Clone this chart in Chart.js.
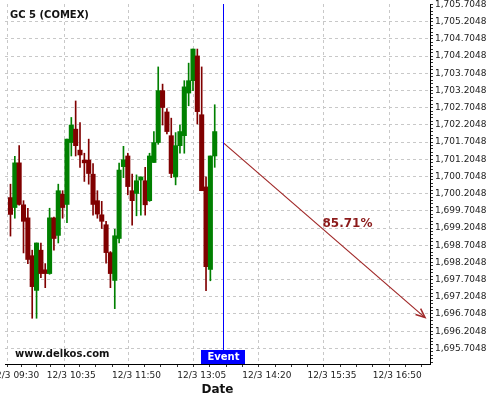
<!DOCTYPE html>
<html>
<head>
<meta charset="utf-8">
<script src="https://cdn.jsdelivr.net/npm/chart.js@4/dist/chart.umd.min.js"></script>
<style>
  html, body { margin: 0; padding: 0; background: #fff; }
  canvas { display: block; }
</style>
</head>
<body>
<canvas id="chart" width="500" height="400"></canvas>
<script>
// GC 5 (COMEX), 5 minute candles on 12/3
const times = ['09:25','09:30','09:35','09:40','09:45','09:50','09:55','10:00','10:05','10:10','10:15','10:20',
  '10:25','10:30','10:35','10:40','10:45','10:50','10:55','11:00','11:05','11:10','11:15','11:20',
  '11:25','11:30','11:35','11:40','11:45','11:50','11:55','12:00','12:05','12:10','12:15','12:20',
  '12:25','12:30','12:35','12:40','12:45','12:50','12:55','13:00','13:05','13:10','13:15','13:20'];
const opens = [1700.09,1699.80,1701.10,1699.88,1699.50,1698.40,1697.39,1698.56,1697.99,1697.88,1699.50,1698.99,
  1700.19,1699.89,1701.69,1702.08,1701.47,1701.18,1701.18,1700.77,1700.00,1699.59,1699.30,1698.49,
  1697.68,1698.90,1700.99,1701.30,1700.29,1700.21,1700.60,1700.58,1700.00,1701.11,1701.69,1703.20,
  1702.58,1701.89,1700.69,1701.60,1701.89,1703.13,1703.49,1704.21,1702.50,1700.40,1698.00,1701.30];
const highs = [1700.48,1701.29,1701.60,1700.00,1699.78,1698.56,1698.77,1698.77,1698.17,1699.78,1699.52,1700.48,
  1700.29,1701.79,1702.42,1702.90,1702.27,1701.38,1701.79,1701.08,1700.29,1699.98,1699.40,1698.52,
  1699.17,1701.09,1701.58,1701.38,1700.77,1700.75,1700.69,1700.97,1701.38,1702.01,1703.89,1703.39,
  1702.68,1702.40,1701.98,1702.20,1703.49,1704.00,1704.41,1704.41,1703.89,1700.69,1701.30,1702.79];
const lows = [1698.97,1699.49,1699.87,1698.48,1698.17,1696.58,1696.58,1697.76,1697.47,1697.86,1698.56,1698.77,
  1699.49,1699.36,1701.30,1701.30,1700.97,1700.56,1700.48,1699.58,1699.49,1699.19,1698.18,1697.47,
  1696.86,1698.77,1700.67,1700.17,1699.29,1699.56,1699.58,1699.58,1699.98,1701.11,1701.64,1702.20,
  1701.94,1700.67,1700.46,1701.38,1701.38,1702.76,1703.20,1702.23,1700.29,1697.38,1697.67,1700.97];
const closes = [1699.60,1701.10,1699.89,1699.40,1698.29,1697.50,1698.77,1697.88,1697.88,1699.50,1698.90,1700.29,
  1699.80,1701.79,1702.20,1701.60,1701.33,1701.10,1700.79,1699.89,1699.61,1699.40,1698.49,1697.88,
  1698.98,1700.89,1701.19,1700.41,1700.00,1700.58,1700.69,1699.88,1701.30,1701.69,1703.20,1702.71,
  1702.01,1700.79,1701.60,1702.01,1703.31,1703.49,1704.41,1702.59,1700.29,1698.08,1701.30,1702.01];

// event and projection
const eventTime = '13:30';
const arrowTimes = ['13:30', '17:22'];
const arrowValues = [1701.68, 1696.60];
const arrowLabel = '85.71%';

// axes
const xTickLabels = ['09:30','10:35','11:50','13:05','14:20','15:35','16:50'];
const xMin = -11.3, xMax = 477.7;            // minutes from 09:30
const yTickLabels = [1695.7048,1696.2048,1696.7048,1697.2048,1697.7048,1698.2048,1698.7048,
  1699.2048,1699.7048,1700.2048,1700.7048,1701.2048,1701.7048,1702.2048,1702.7048,1703.2048,
  1703.7048,1704.2048,1704.7048,1705.2048,1705.7048];
const yMin = 1695.25, yMax = 1705.72;

const GREEN = '#008000', RED = '#800000';
const FONT = 'DejaVu Sans';

function toMin(s) {
  const [h, m] = s.split(':').map(Number);
  return h * 60 + m - 570;
}
function fmtTime(t) {
  const total = Math.round(t + 570);
  const h = String(Math.floor(total / 60)).padStart(2, '0');
  const m = String(total % 60).padStart(2, '0');
  return h + ':' + m;
}

// x ticks: labelled ones plus 3 unlabelled ones in each gap
const xMajor = xTickLabels.map(toMin);
const xTicks = [];
xMajor.forEach((v, i) => {
  xTicks.push({ value: v, major: true });
  const gap = i < xMajor.length - 1 ? xMajor[i + 1] - v : v - xMajor[i - 1];
  for (let k = 1; k < 4; k++) {
    const mv = v + gap * k / 4;
    if (mv <= xMax) xTicks.push({ value: mv, major: false });
  }
});

// y ticks: labelled every 0.5, small ones every 0.1
const yTicks = [];
for (let v = yTickLabels[0] - 0.4; v <= yMax; v += 0.1) {
  const isMajor = yTickLabels.some(t => Math.abs(t - v) < 1e-6);
  yTicks.push({ value: v, major: isMajor });
}

const bodies = times.map((t, i) => ({ x: toMin(t), y: [opens[i], closes[i]] }));
const wicks = times.map((t, i) => ({ x: toMin(t), y: [lows[i], highs[i]] }));
const colors = times.map((t, i) => closes[i] >= opens[i] ? GREEN : RED);

const overlay = {
  id: 'overlay',
  afterDatasetsDraw(chart) {
    const { ctx, chartArea: a, scales: { x } } = chart;
    ctx.save();

    // event line
    const ex = Math.round(x.getPixelForValue(toMin(eventTime))) + 0.5;
    ctx.strokeStyle = '#0000ff';
    ctx.lineWidth = 1;
    ctx.beginPath();
    ctx.moveTo(ex, a.top);
    ctx.lineTo(ex, a.bottom);
    ctx.stroke();

    // arrow head + label
    const pts = chart.getDatasetMeta(2).data;
    const p0 = pts[0], p1 = pts[1];
    const ang = Math.atan2(p1.y - p0.y, p1.x - p0.x);
    ctx.strokeStyle = '#a02828';
    ctx.lineWidth = 1.5;
    ctx.beginPath();
    ctx.moveTo(p1.x - 10 * Math.cos(ang - 0.4), p1.y - 10 * Math.sin(ang - 0.4));
    ctx.lineTo(p1.x, p1.y);
    ctx.lineTo(p1.x - 10 * Math.cos(ang + 0.4), p1.y - 10 * Math.sin(ang + 0.4));
    ctx.stroke();

    const lx = p0.x + (p1.x - p0.x) * 0.615;
    const ly = p0.y + (p1.y - p0.y) * 0.615 - 26;
    ctx.fillStyle = '#8b1a1a';
    ctx.font = 'bold 12px "' + FONT + '"';
    ctx.textAlign = 'center';
    ctx.textBaseline = 'middle';
    ctx.fillText(arrowLabel, lx, ly);

    // title and site name
    ctx.fillStyle = '#111';
    ctx.font = 'bold 10px "' + FONT + '"';
    ctx.textAlign = 'left';
    ctx.fillText('GC 5 (COMEX)', a.left + 5, a.top + 11.5);
    ctx.fillText('www.delkos.com', a.left + 10, a.bottom - 10);

    // event tag
    ctx.fillStyle = '#0000ff';
    ctx.fillRect(ex - 22.5, a.bottom - 14, 44, 14);
    ctx.fillStyle = '#fff';
    ctx.textAlign = 'center';
    ctx.fillText('Event', ex, a.bottom - 6.5);
    ctx.restore();
  }
};

new Chart(document.getElementById('chart'), {
  type: 'bar',
  data: {
    datasets: [
      {
        label: 'body',
        data: bodies,
        backgroundColor: colors,
        borderWidth: 0,
        barThickness: 4.4,
        minBarLength: 1,
        grouped: false
      },
      {
        label: 'wick',
        data: wicks,
        backgroundColor: colors,
        borderWidth: 0,
        barThickness: 1,
        grouped: false
      },
      {
        type: 'line',
        label: 'projection',
        data: arrowTimes.map((t, i) => ({ x: toMin(t), y: arrowValues[i] })),
        borderColor: '#a02828',
        borderWidth: 1.2,
        pointRadius: 0,
        fill: false
      }
    ]
  },
  options: {
    responsive: false,
    animation: false,
    devicePixelRatio: 1,
    layout: { padding: { left: 5, top: 4, right: 0, bottom: 0 } },
    plugins: {
      legend: { display: false },
      tooltip: { enabled: false },
      title: { display: false }
    },
    scales: {
      x: {
        type: 'linear',
        min: xMin,
        max: xMax,
        offset: false,
        afterBuildTicks: (scale) => { scale.ticks = xTicks.map(t => ({ ...t })); },
        afterFit: (scale) => { scale.height = 36; scale.paddingLeft = 0; scale.paddingRight = 0; },
        ticks: {
          autoSkip: false,
          maxRotation: 0,
          padding: 3,
          color: '#222',
          font: { family: FONT, size: 9 },
          callback: (v, i, ticks) => ticks[i].major ? '12/3 ' + fmtTime(v) : ''
        },
        grid: {
          color: (c) => c.tick && c.tick.major ? '#c8c8c8' : 'rgba(0,0,0,0)',
          tickColor: '#333',
          tickLength: 3
        },
        border: { display: true, color: '#000', width: 1, dash: [3, 3] },
        title: {
          display: true,
          text: 'Date',
          color: '#111',
          font: { family: FONT, size: 12, weight: 'bold' },
          padding: { top: 0, bottom: 3 }
        }
      },
      y: {
        type: 'linear',
        position: 'right',
        min: yMin,
        max: yMax,
        afterBuildTicks: (scale) => { scale.ticks = yTicks.map(t => ({ ...t })); },
        afterFit: (scale) => { scale.width = 70; scale.paddingTop = 0; scale.paddingBottom = 0; },
        ticks: {
          autoSkip: false,
          padding: 2,
          color: '#222',
          font: { family: FONT, size: 9 },
          callback: (v, i, ticks) => ticks[i].major
            ? v.toLocaleString('en-US', { minimumFractionDigits: 4, maximumFractionDigits: 4 })
            : ''
        },
        grid: {
          color: (c) => c.tick && c.tick.major && c.tick.value < yMax - 0.1 ? '#c8c8c8' : 'rgba(0,0,0,0)',
          tickColor: '#333',
          tickLength: 3
        },
        border: { display: true, color: '#000', width: 1, dash: [3, 3] }
      }
    }
  },
  plugins: [overlay]
});
</script>
</body>
</html>
